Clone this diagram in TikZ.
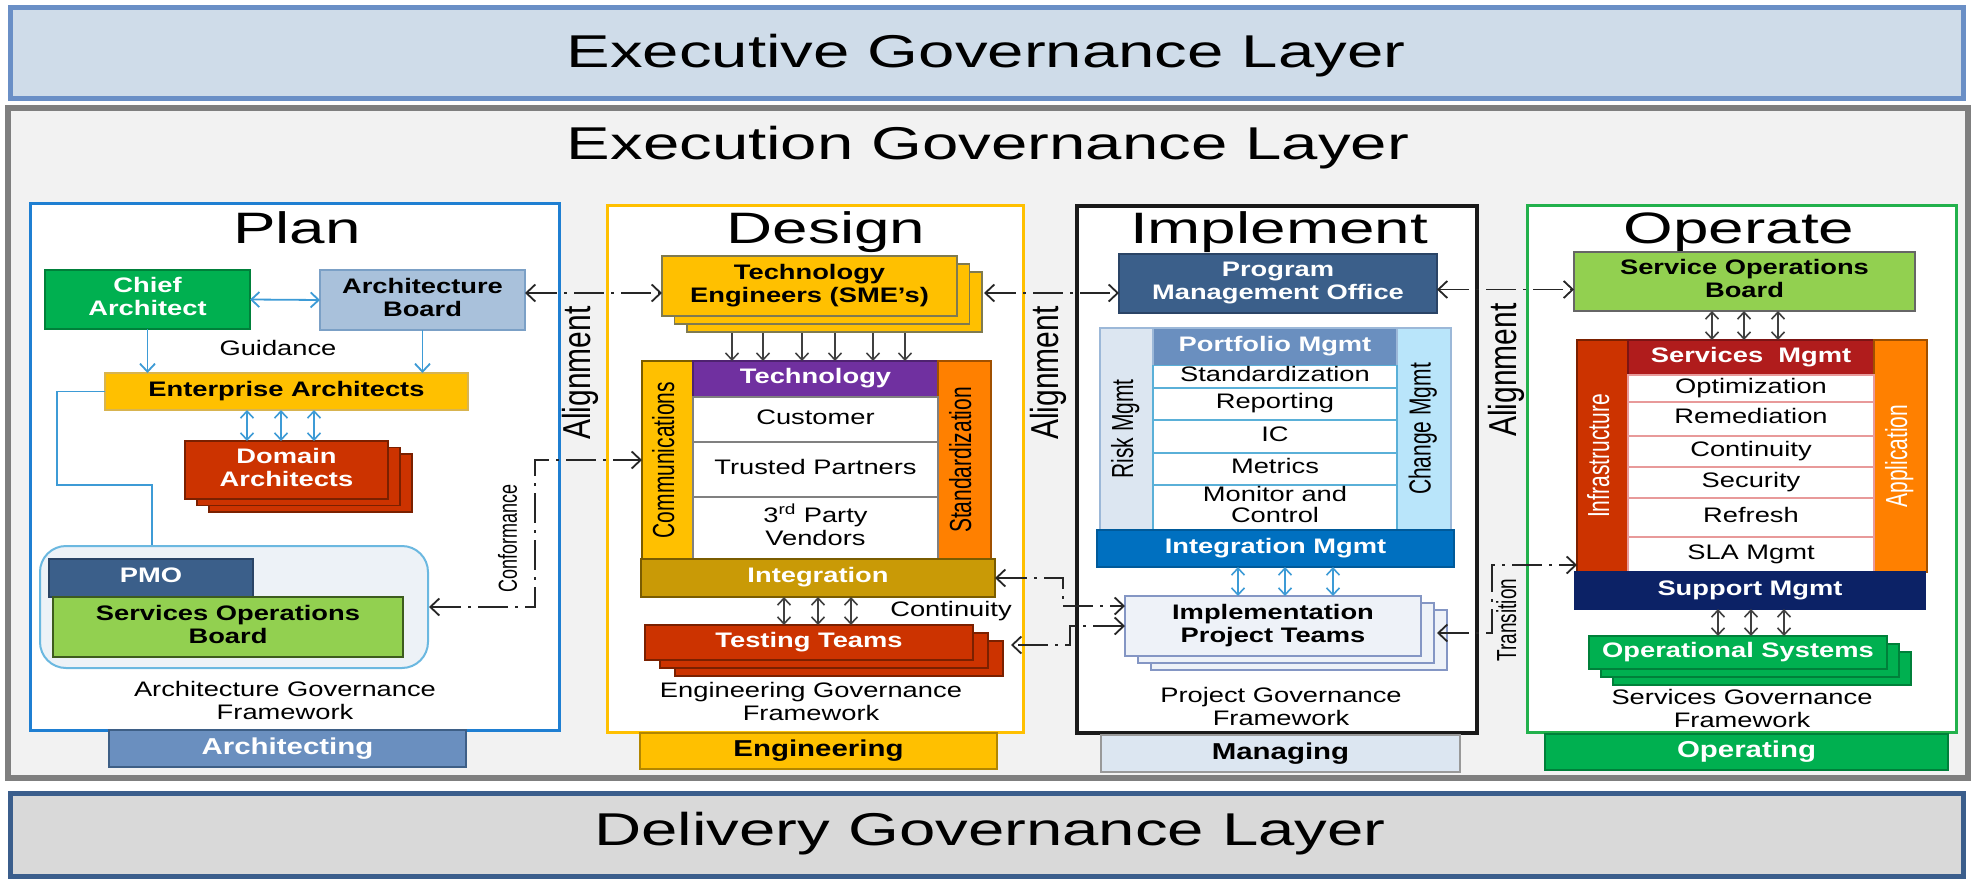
\documentclass[tikz,border=0pt]{standalone}
\usepackage{fontspec}
\setmainfont{Liberation Sans}
\usepackage{graphicx}
\usetikzlibrary{arrows.meta}
\definecolor{execfill}{HTML}{CFDCE9}
\definecolor{execbd}{HTML}{6A8FC6}
\definecolor{execufill}{HTML}{F2F2F2}
\definecolor{execubd}{HTML}{7F7F7F}
\definecolor{delfill}{HTML}{D9D9D9}
\definecolor{delbd}{HTML}{3B5E8C}
\definecolor{planbd}{HTML}{1F7FD2}
\definecolor{designbd}{HTML}{FFC000}
\definecolor{implbd}{HTML}{1A1A1A}
\definecolor{opbd}{HTML}{22B14C}
\definecolor{bluec}{HTML}{3D9BD6}
\definecolor{grn}{HTML}{00B050}
\definecolor{grnbd}{HTML}{00803A}
\definecolor{abfill}{HTML}{A9C1DB}
\definecolor{abbd}{HTML}{7BA0C6}
\definecolor{yel}{HTML}{FFC000}
\definecolor{yelbd}{HTML}{D8B450}
\definecolor{tebd}{HTML}{7F7A50}
\definecolor{red}{HTML}{CC3300}
\definecolor{redbd}{HTML}{7A2000}
\definecolor{pmogfill}{HTML}{EDF2F7}
\definecolor{pmogbd}{HTML}{6BB8E0}
\definecolor{navyb}{HTML}{3B5F8A}
\definecolor{navybd}{HTML}{2A4466}
\definecolor{lgrn}{HTML}{92D050}
\definecolor{lgrnbd}{HTML}{3D5C1E}
\definecolor{steel}{HTML}{6A8FBF}
\definecolor{steelbd}{HTML}{3E5F86}
\definecolor{purp}{HTML}{7030A0}
\definecolor{orng}{HTML}{FF8000}
\definecolor{orngbd}{HTML}{A05000}
\definecolor{gold}{HTML}{C99A06}
\definecolor{goldbd}{HTML}{7A5C00}
\definecolor{riskc}{HTML}{DCE6F1}
\definecolor{riskbd}{HTML}{9CB8D8}
\definecolor{chgc}{HTML}{B9E5FA}
\definecolor{intmc}{HTML}{0070C0}
\definecolor{svcmc}{HTML}{B01C1C}
\definecolor{supmc}{HTML}{0C2266}
\definecolor{rowblue}{HTML}{5AB0D8}
\definecolor{rowred}{HTML}{E89A9A}
\definecolor{iptfill}{HTML}{EEF2F8}
\definecolor{iptbd}{HTML}{8496C4}
\definecolor{darkarr}{HTML}{404040}
\newcommand{\fsm}{\fontsize{21}{23}\selectfont}
\newcommand{\hsx}[2][1.3]{\scalebox{#1}[1]{\begin{tabular}{@{}c@{}}#2\end{tabular}}}
\newcommand{\vsx}[2][1.45]{\scalebox{1}[#1]{\begin{tabular}{@{}c@{}}#2\end{tabular}}}
\newcommand{\bx}[7]{\node[bxs,#2,minimum width={(#5-#3)*1pt},minimum height={(#6-#4)*1pt}] (#1) at ({(#3+#5)/2},{(#4+#6)/2}) {#7};}
\newcommand{\stk}[7]{\filldraw[#7] ({#1+2*#5},{#2+2*#6}) rectangle ({#3+2*#5},{#4+2*#6}); \filldraw[#7] ({#1+#5},{#2+#6}) rectangle ({#3+#5},{#4+#6});}
\tikzset{
  bxs/.style={rectangle, inner sep=0pt, outer sep=0pt, align=center, font=\fsm, line width=1.2pt},
  bld/.style={font=\fsm\bfseries},
  lbl/.style={inner sep=0pt, font=\fsm},
  big/.style={inner sep=0pt, font=\fontsize{46}{50}\selectfont},
  ttl/.style={inner sep=0pt, font=\fontsize{44}{48}\selectfont},
  foot/.style={font=\fontsize{23}{25}\selectfont\bfseries},
  conn/.style={draw=black!85, line width=1.8pt, dash pattern=on 30pt off 7pt on 3pt off 7pt,
    {Straight Barb[length=9pt,width=17pt]}-{Straight Barb[length=9pt,width=17pt]}},
  dbl/.style={line width=1.6pt, {Straight Barb[length=7pt,width=13pt]}-{Straight Barb[length=7pt,width=13pt]}},
  dwn/.style={draw=darkarr, line width=1.5pt, -{Straight Barb[length=7pt,width=13pt]}},
  barr/.style={draw=bluec, line width=1.8pt, -{Straight Barb[length=8pt,width=15pt]}},
}
\begin{document}
\begin{tikzpicture}[x=1pt,y=-1pt]
\useasboundingbox (0,0) rectangle (1973,880);
% layers
\bx{exec}{fill=execfill,draw=execbd,line width=5pt}{10}{8}{1963}{99}{}
\node[big,anchor=base] (exect) at (986,68) {\scalebox{1.42}[1]{Executive Governance Layer}};
\bx{execu}{fill=execufill,draw=execubd,line width=6pt}{8}{108}{1968}{778}{}
\node[big,anchor=base] (execut) at (988,160) {\scalebox{1.42}[1]{Execution Governance Layer}};
\bx{deliv}{fill=delfill,draw=delbd,line width=5pt}{10}{793}{1963}{876}{}
\node[big,anchor=base] (delivt) at (990,845) {\scalebox{1.42}[1]{Delivery Governance Layer}};

% ================= PLAN
\bx{plan}{fill=white,draw=planbd,line width=3pt}{30}{203}{559}{730}{}
\node[ttl,anchor=base] (tplan) at (297,243) {\scalebox{1.45}[1]{Plan}};
\bx{ca}{bld,fill=grn,draw=grnbd,text=white}{45}{270}{250}{329}{\hsx{Chief\\Architect}}
\bx{ab}{bld,fill=abfill,draw=abbd,line width=1.8pt}{320}{270}{525}{330}{\hsx{Architecture\\Board}}
\node[lbl] (guid) at (278,351) {\hsx{Guidance}};
\bx{ea}{bld,fill=yel,draw=yelbd}{105}{373}{468}{410}{\hsx{Enterprise Architects}}
\stk{185}{441}{388}{499}{12}{6.5}{fill=red,draw=redbd,line width=1.2pt}
\bx{da}{bld,fill=red,draw=redbd,text=white}{185}{441}{388}{499}{\hsx{Domain\\Architects}}
\node[draw=pmogbd,fill=pmogfill,line width=2pt,rounded corners=26pt,minimum width=388pt,minimum height=122pt,inner sep=0pt] (pmog) at (234,607) {};
\bx{pmo}{bld,fill=navyb,draw=navybd,text=white}{49}{559}{253}{597}{\hsx{PMO}}
\bx{sob1}{bld,fill=lgrn,draw=lgrnbd,line width=1.8pt}{53}{597}{403}{657}{\hsx{Services Operations\\Board}}
\node[lbl] (cap1) at (285,703) {\hsx{Architecture Governance\\Framework}};
\bx{farch}{foot,fill=steel,draw=steelbd,text=white}{109}{730}{466}{767}{\scalebox{1.28}[1]{Architecting}}
% plan connectors
\draw[barr,{Straight Barb[length=8pt,width=15pt]}-{Straight Barb[length=8pt,width=15pt]}] (ca.east) -- (ab.west);
\draw[barr] (ca.south) -- (ca.south |- ea.north);
\draw[barr] (ab.south) -- (ab.south |- ea.north);
\foreach \d in {-39.5,-5.5,27.5}{\path ([xshift=\d pt]ea.south) coordinate (s); \draw[dbl,draw=bluec] (s) -- (s |- da.north);}
\coordinate (k1) at (57,485);
\draw[draw=bluec,line width=1.8pt] (ea.west) -| (k1) -| ([xshift=-82pt]pmog.north);

% ================= DESIGN
\bx{design}{fill=white,draw=designbd,line width=3pt}{607}{205}{1023}{732}{}
\node[ttl,anchor=base] (tdesign) at (826,243) {\scalebox{1.45}[1]{Design}};
\stk{662}{256}{957}{316}{12.5}{8}{fill=yel,draw=tebd,line width=1.2pt}
\bx{te}{bld,fill=yel,draw=tebd}{662}{256}{957}{316}{\hsx{Technology\\Engineers (SME’s)}}
\bx{comm}{fill=yel,draw=goldbd}{642}{361}{693}{559}{}
\node[lbl,rotate=90] (commt) at (comm.center) {\vsx{Communications}};
\bx{tech}{bld,fill=purp,draw=purp!70!black,text=white}{693}{361}{938}{397}{\hsx{Technology}}
\bx{stdz}{fill=orng,draw=orngbd}{938}{361}{991}{559}{}
\node[lbl,rotate=90] (stdzt) at (stdz.center) {\vsx{Standardization}};
\bx{cust}{fill=white,draw=black!50}{693}{397}{938}{442}{\hsx{Customer}}
\bx{trus}{fill=white,draw=black!50}{693}{442}{938}{497}{\hsx{Trusted Partners}}
\bx{vend}{fill=white,draw=black!50}{693}{497}{938}{559}{\hsx{3\textsuperscript{rd} Party\\Vendors}}
\bx{integ}{bld,fill=gold,draw=goldbd,text=white}{641}{559}{995}{597}{\hsx{Integration}}
\node[lbl] (cont) at (951,612) {\hsx{Continuity}};
\stk{645}{625}{973}{660}{15}{8}{fill=red,draw=redbd,line width=1.2pt}
\bx{tt}{bld,fill=red,draw=redbd,text=white}{645}{625}{973}{660}{\hsx{Testing Teams}}
\node[lbl] (cap2) at (811,704) {\hsx{Engineering Governance\\Framework}};
\bx{feng}{foot,fill=yel,draw=yel!70!black}{640}{733}{997}{769}{\scalebox{1.28}[1]{Engineering}}
\foreach \d in {-77.5,-46.5,-7.5,25.5,63.5,95.5}{\path ([xshift=\d pt,yshift=-17pt]te.south) coordinate (s); \draw[dwn] (s) -- (s |- tech.north);}
\foreach \d in {-34,0,33}{\path ([xshift=\d pt]integ.south) coordinate (s); \draw[dbl,draw=darkarr] (s) -- (s |- tt.north);}

% ================= IMPLEMENT
\bx{impl}{fill=white,draw=implbd,line width=4pt}{1077}{206}{1477}{733}{}
\node[ttl,anchor=base] (timpl) at (1279,243) {\scalebox{1.45}[1]{Implement}};
\bx{pmoff}{bld,fill=navyb,draw=navybd,text=white}{1119}{254}{1437}{313}{\hsx{Program\\Management Office}}
\bx{risk}{fill=riskc,draw=riskbd}{1100}{328}{1153}{530}{}
\node[lbl,rotate=90] (riskt) at (risk.center) {\vsx{Risk Mgmt}};
\bx{chg}{fill=chgc,draw=riskbd}{1397}{328}{1451}{530}{}
\node[lbl,rotate=90] (chgt) at (chg.center) {\vsx{Change Mgmt}};
\bx{port}{bld,fill=steel,draw=riskbd,text=white}{1153}{328}{1397}{366}{\hsx{Portfolio Mgmt}}
\bx{r1}{fill=white,draw=rowblue}{1153}{366}{1397}{388}{\hsx{Standardization}}
\bx{r2}{fill=white,draw=rowblue}{1153}{388}{1397}{420}{\hsx{Reporting}}
\bx{r3}{fill=white,draw=rowblue}{1153}{420}{1397}{453}{\hsx{IC}}
\bx{r4}{fill=white,draw=rowblue}{1153}{453}{1397}{485}{\hsx{Metrics}}
\bx{r5}{fill=white,draw=rowblue,font=\fontsize{21}{21}\selectfont}{1153}{485}{1397}{530}{\hsx{Monitor and\\Control}}
\bx{intm}{bld,fill=intmc,draw=intmc!80!black,text=white}{1097}{530}{1454}{567}{\hsx{Integration Mgmt}}
\stk{1125}{596}{1421}{656}{13}{7}{fill=iptfill,draw=iptbd,line width=1.5pt}
\bx{ipt}{bld,fill=iptfill,draw=iptbd,line width=1.5pt}{1125}{596}{1421}{656}{\hsx{Implementation\\Project Teams}}
\node[lbl] (cap3) at (1281,709) {\hsx{Project Governance\\Framework}};
\bx{fman}{foot,fill=riskc,draw=black!40}{1101}{735}{1460}{772}{\scalebox{1.28}[1]{Managing}}
\foreach \d in {-37.5,9.5,57.5}{\path ([xshift=\d pt]intm.south) coordinate (s); \draw[dbl,draw=bluec] (s) -- (s |- ipt.north);}

% ================= OPERATE
\bx{oper}{fill=white,draw=opbd,line width=3pt}{1527}{205}{1956}{732}{}
\node[ttl,anchor=base] (toper) at (1739,243) {\scalebox{1.45}[1]{Operate}};
\bx{sob2}{bld,fill=lgrn,draw=black!60}{1574}{252}{1915}{311}{\hsx{Service Operations\\Board}}
\bx{infra}{fill=red,draw=redbd}{1577}{340}{1628}{572}{}
\node[lbl,rotate=90,text=white] (infrat) at (infra.center) {\vsx{Infrastructure}};
\bx{svcm}{bld,fill=svcmc,draw=svcmc!70!black,text=white}{1628}{340}{1874}{375}{\hsx{Services\ \ Mgmt}}
\bx{appl}{fill=orng,draw=orngbd}{1874}{340}{1927}{572}{}
\node[lbl,rotate=90,text=white] (applt) at (appl.center) {\vsx{Application}};
\bx{o1}{fill=white,draw=rowred}{1628}{375}{1874}{402}{\hsx{Optimization}}
\bx{o2}{fill=white,draw=rowred}{1628}{402}{1874}{436}{\hsx{Remediation}}
\bx{o3}{fill=white,draw=rowred}{1628}{436}{1874}{467}{\hsx{Continuity}}
\bx{o4}{fill=white,draw=rowred}{1628}{467}{1874}{498}{\hsx{Security}}
\bx{o5}{fill=white,draw=rowred}{1628}{498}{1874}{537}{\hsx{Refresh}}
\bx{o6}{fill=white,draw=rowred}{1628}{537}{1874}{572}{\hsx{SLA Mgmt}}
\bx{supm}{bld,fill=supmc,draw=supmc,text=white}{1575}{572}{1925}{609}{\hsx{Support Mgmt}}
\stk{1589}{636}{1887}{669}{12}{8}{fill=grn,draw=grnbd,line width=1.2pt}
\bx{ops}{bld,fill=grn,draw=grnbd,text=white}{1589}{636}{1887}{669}{\hsx{Operational Systems}}
\node[lbl] (cap4) at (1742,711) {\hsx{Services Governance\\Framework}};
\bx{fop}{foot,fill=grn,draw=grnbd,text=white}{1545}{734}{1948}{770}{\scalebox{1.28}[1]{Operating}}
\foreach \d in {-32.5,-0.5,33.5}{\path ([xshift=\d pt]sob2.south) coordinate (s); \draw[dbl,draw=darkarr] (s) -- (s |- svcm.north);}
\foreach \d in {-32,1,34}{\path ([xshift=\d pt]supm.south) coordinate (s); \draw[dbl,draw=darkarr] (s) -- (s |- ops.north);}

% ================= alignment connectors
\node[inner sep=0pt,font=\fontsize{30}{32}\selectfont,rotate=90] (al1) at (582,373) {\vsx[1.3]{Alignment}};
\node[inner sep=0pt,font=\fontsize{30}{32}\selectfont,rotate=90] (al2) at (1050,373) {\vsx[1.3]{Alignment}};
\node[inner sep=0pt,font=\fontsize{30}{32}\selectfont,rotate=90] (al3) at (1508,370) {\vsx[1.3]{Alignment}};
\coordinate (a1) at ([yshift=7pt]ab.east);
\draw[conn] (a1) -- (a1 -| te.west);
\coordinate (a2) at ([xshift=27pt,yshift=-7pt]te.east);
\draw[conn] (a2) -- (a2 -| pmoff.west);
\coordinate (a3) at ([yshift=-6pt]pmoff.east);
\draw[conn] (a3) -- (a3 -| sob2.west);
% conformance
\coordinate (cj) at (535,460);
\draw[conn] (pmog.east) -| (cj) -- (comm.west);
\node[lbl,rotate=90,font=\fontsize{18}{20}\selectfont] (conf) at (511,538) {\vsx{Conformance}};
% continuity connectors
\coordinate (cj1) at (1063,606);
\draw[conn] (integ.east) -| (cj1) -- (cj1 -| ipt.west);
\coordinate (cj2) at (1070,645);
\coordinate (tte) at ([xshift=38pt,yshift=-2.5pt]tt.east);
\draw[conn] (ipt.west) -| (cj2) -- (tte);
% transition
\coordinate (t1) at ([xshift=16pt,yshift=-7pt]ipt.east);
\coordinate (t2) at (1492,565);
\draw[conn] (t1) -| (t2) -- (t2 -| infra.west);
\node[lbl,rotate=90,font=\fontsize{19}{21}\selectfont] (trans) at (1510,620) {\vsx{Transition}};
\end{tikzpicture}
\end{document}
